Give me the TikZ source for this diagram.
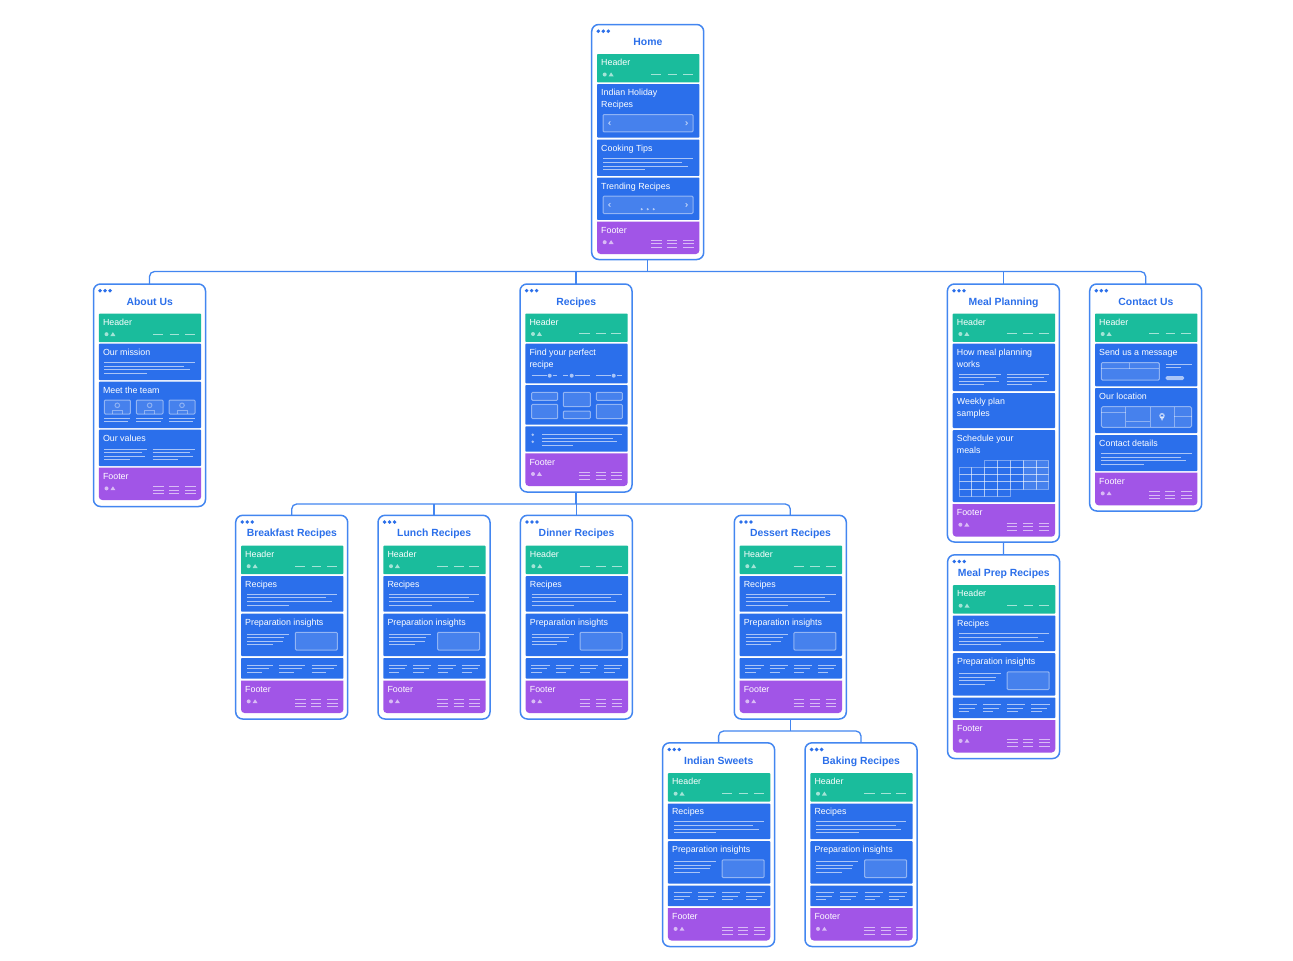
\documentclass[tikz,border=0pt]{standalone}
\usepackage{fontspec}
\setmainfont{Liberation Sans}
\definecolor{cardblue}{HTML}{4386F0}
\definecolor{titleblue}{HTML}{2B6FEA}
\definecolor{secblue}{HTML}{2B6FEB}
\definecolor{secgreen}{HTML}{1ABC9C}
\definecolor{secpurple}{HTML}{A155E7}
\tikzset{
  cardbox/.style={draw=cardblue,line width=1.5pt,rounded corners=7pt,fill=white,minimum width=112pt,inner sep=0pt,outer sep=0pt,anchor=north west},
  conn/.style={draw=cardblue,line width=1.3pt,rounded corners=5pt},
  cardtitle/.style={font=\fontsize{10.4}{12}\selectfont\bfseries,text=titleblue,inner sep=0pt,anchor=base},
  sectext/.style={font=\fontsize{8.85}{12}\selectfont,text=white,inner sep=0pt,anchor=base west},
  ln/.style={draw=white,draw opacity=.6,line width=1pt},
  thinln/.style={draw=white,draw opacity=.38,line width=1pt},
  boxed/.style={fill=white,fill opacity=.13,draw=white,draw opacity=.45,line width=1pt},
  dotf/.style={fill=white,fill opacity=.6,draw=none},
}
\newcounter{tn}
\newcommand{\txt}[3]{\stepcounter{tn}\node[sectext] (tn\arabic{tn}) at (#1,#2+3) {\begin{tabular}[t]{@{}l@{}}#3\end{tabular}};}
\newcommand{\cardf}[5]{% name,x,y,h,title
  \node[cardbox,minimum height=#4 pt] (#1) at (#2,#3) {};
  \node[cardtitle] (#1title) at ([xshift=56.2pt,yshift=-21.3pt]#1.north west) {#5};
  \foreach \dx in {6.6,11.6,16.6}{\fill[titleblue] ([xshift=\dx pt,yshift=-6.7pt]#1.north west) circle (1.9pt);}
}
\newcommand{\sect}[3]{\fill[#1,rounded corners=.8pt] (5.3,#2) rectangle (107.7,#3);}
\newcommand{\iconpair}[1]{\fill[dotf] (13,#1) circle (2pt); \fill[dotf] (16.9,#1+1.8) -- (21.9,#1+1.8) -- (19.4,#1-2.1) -- cycle;}
\newcommand{\headsec}[1]{\sect{secgreen}{#1}{#1+28.4}\txt{9.3}{#1+8.5}{Header}
  \iconpair{#1+20.5}
  \foreach \a/\b in {59.3/69.6,76/85.6,91.3/101.3}{\draw[ln] (\a,#1+20.3) -- (\b,#1+20.3);}}
\newcommand{\footsec}[2]{\fill[secpurple] (5.3,#1) -- (107.7,#1) [rounded corners=3.5pt] -- (107.7,#2) -- (5.3,#2) [sharp corners] -- cycle;
  \txt{9.3}{#1+8.7}{Footer}\iconpair{#1+20.7}
  \foreach \a/\b in {59.3/70,75.6/85.6,91.3/102}{\foreach \d in {19,22.4,26}{\draw[ln] (\a,#1+\d) -- (\b,#1+\d);}}}
\newcommand{\plines}[5]{% x,y,w,ratio3,lastratio
  \draw[ln] (#1,#2) -- ++(#3,0);
  \draw[ln] (#1,#2+3.6) -- ++({#3*.88},0);
  \draw[ln] (#1,#2+7.2) -- ++({#3*#4},0);
  \draw[ln] (#1,#2+10.8) -- ++({#3*#5},0);}
\newcommand{\chevs}[1]{\draw[ln,line width=.9pt] (18.7,#1-1.8) -- (17,#1) -- (18.7,#1+1.8); \draw[ln,line width=.9pt] (94,#1-1.8) -- (95.7,#1) -- (94,#1+1.8);}
\newcommand{\subcard}[5]{% name,x,y,title,columns list macro
  \cardf{#1}{#2}{#3}{203.7}{#4}
  \begin{scope}[shift={(#1.north west)}]
  \headsec{30.4}
  \sect{secblue}{60.7}{96.4}\txt{9.3}{69}{Recipes}\plines{11.3}{79}{90}{.94}{.47}
  \sect{secblue}{98.4}{140.7}\txt{9.3}{106.8}{Preparation insights}\plines{11.3}{118.7}{42}{.85}{.61}
  \fill[boxed,rounded corners=1pt] (59.6,117) rectangle (101.6,134.7);
  \sect{secblue}{142.7}{163.4}
  \foreach \a/\w in #5 {\draw[ln] (\a,150) -- ++(\w,0); \draw[ln] (\a,153.6) -- ++({\w*.87},0); \draw[ln] (\a,157) -- ++({\w*.57},0);}
  \footsec{165.4}{197.7}
  \end{scope}
}
\begin{document}
\begin{tikzpicture}[x=1pt,y=-1pt]
\useasboundingbox (0,0) rectangle (1293,961);
\fill[white] (0,0) rectangle (1293,961);
% ---- Home
\cardf{home}{591.7}{24.5}{235}{Home}
\begin{scope}[shift={(home.north west)}]
\headsec{29.5}
\sect{secblue}{59.5}{113}\txt{9.3}{67.5}{Indian Holiday\\Recipes}
\fill[boxed,rounded corners=1pt] (11.3,90) rectangle (101.3,107.3);\chevs{98.7}
\sect{secblue}{115}{151.4}\txt{9.3}{123.5}{Cooking Tips}\plines{11.3}{134.3}{90}{.94}{.47}
\sect{secblue}{153}{195.4}\txt{9.3}{161.7}{Trending Recipes}
\fill[boxed,rounded corners=1pt] (11.3,171.7) rectangle (101.3,189);\chevs{180.4}
\foreach \a in {50,56,62}{\fill[dotf] (\a,184.7) circle (1.2pt);}
\footsec{197}{229.5}
\end{scope}
% ---- About Us
\cardf{about}{93.5}{284}{222.5}{About Us}
\begin{scope}[shift={(about.north west)}]
\headsec{29.7}
\sect{secblue}{59.7}{96}\txt{9.3}{68}{Our mission}\plines{10.8}{78.7}{90.7}{.94}{.47}
\sect{secblue}{97.7}{144}\txt{9.3}{106}{Meet the team}
\foreach \a/\b in {10.8/36.8,42.8/69.5,75.5/101.5}{
  \fill[boxed,rounded corners=1pt] (\a,116) rectangle (\b,130);
  \draw[thinln] ({(\a+\b)/2},121.3) circle (2.3pt);
  \draw[thinln] ({(\a+\b)/2-5},130) -- ({(\a+\b)/2-5},126.5) -- ({(\a+\b)/2+5},126.5) -- ({(\a+\b)/2+5},130);
  \draw[ln] (\a,134) -- (\b,134); \draw[ln] (\a,137.7) -- ({\b-2},137.7);
}
\sect{secblue}{145.7}{182}\txt{9.3}{154}{Our values}
\plines{10.8}{165}{42.7}{.95}{.6}\plines{59.2}{165}{42.3}{.95}{.6}
\footsec{183.7}{216}
\end{scope}
% ---- Recipes
\cardf{recipes}{520}{284}{208}{Recipes}
\begin{scope}[shift={(recipes.north west)}]
\headsec{29.5}
\sect{secblue}{59.7}{99.3}\txt{9.3}{68}{Find your perfect\\recipe}
\foreach \a/\b in {11.7/27,32.7/37.3,43.3/48.3,55/70.3,76.3/90.7,97.3/102.3}{\draw[ln] (\a,91.7) -- (\b,91.7);}
\foreach \a in {29.7,51.7,93.7}{\fill[dotf] (\a,91.7) circle (2pt);}
\sect{secblue}{101}{140.7}
\foreach \a/\c/\b/\d in {11.7/108.3/37.7/116.3,11.7/120.3/37.7/134.7,43.3/108.3/70.3/122.7,43.3/127/70.3/134.7,76.3/108.3/102.3/116.3,76.3/120.3/102.3/134.7}{\fill[boxed,rounded corners=1pt] (\a,\c) rectangle (\b,\d);}
\sect{secblue}{142.3}{167.7}
\foreach \d in {150.7,157.7}{\fill[dotf] (12.7,\d) circle (1.4pt);}
\plines{22}{150.7}{80.3}{.93}{.39}
\footsec{169.3}{202}
\end{scope}
% ---- Meal Planning
\cardf{meal}{947.4}{284}{258}{Meal Planning}
\begin{scope}[shift={(meal.north west)}]
\headsec{29.5}
\sect{secblue}{59.7}{107}\txt{9.3}{68}{How meal planning\\works}
\plines{11.4}{90}{42.3}{.95}{.6}\plines{59.4}{90}{42.3}{.95}{.6}
\sect{secblue}{109}{144}\txt{9.3}{117}{Weekly plan\\samples}
\sect{secblue}{146}{218}\txt{9.3}{154}{Schedule your\\meals}
\foreach \i in {5,6}{\foreach \j in {0,1,2,3}{\fill[white,fill opacity=.13] ({11.6+12.84*\i},{176.6+7.1*\j}) rectangle ++(12.84,7.1);}}
\foreach \i in {2,...,6}{\draw[thinln] ({11.6+12.84*\i},176.6) rectangle ++(12.84,7.1);}
\foreach \j in {1,2,3}{\foreach \i in {0,...,6}{\draw[thinln] ({11.6+12.84*\i},{176.6+7.1*\j}) rectangle ++(12.84,7.1);}}
\foreach \i in {0,...,3}{\draw[thinln] ({11.6+12.84*\i},{176.6+7.1*4}) rectangle ++(12.84,7.1);}
\footsec{220}{252.7}
\end{scope}
% ---- Contact Us
\cardf{contact}{1089.7}{284}{227}{Contact Us}
\begin{scope}[shift={(contact.north west)}]
\headsec{29.5}
\sect{secblue}{59.7}{102.3}\txt{9.3}{68}{Send us a message}
\fill[boxed,rounded corners=1pt] (11.6,78.7) rectangle (69.6,96);
\draw[thinln] (11.6,84.7) -- (69.6,84.7); \draw[thinln] (40,78.7) -- (40,84.7);
\draw[ln] (76,80) -- (102,80); \draw[ln] (76,83.7) -- (91.3,83.7);
\fill[dotf,rounded corners=1.5pt] (76,92) rectangle (94.3,96);
\sect{secblue}{104}{149}\txt{9.3}{112}{Our location}
\fill[boxed,rounded corners=1.5pt] (11.6,122.7) rectangle (102,143.3);
\foreach \a in {36,60.3,84.3}{\draw[thinln] (\a,122.7) -- (\a,143.3);}
\draw[thinln] (11.6,128.7) -- (36,128.7); \draw[thinln] (36,137.3) -- (60.3,137.3); \draw[thinln] (84.3,132.7) -- (102,132.7);
\fill[dotf] (72.3,131.7) circle (2.8pt); \fill[dotf] (70.3,133) -- (74.3,133) -- (72.3,137) -- cycle;
\fill[secblue] (72.3,131.7) circle (1pt);
\sect{secblue}{151}{187}\txt{9.3}{159}{Contact details}\plines{11.3}{169.7}{90.7}{.94}{.47}
\footsec{188.7}{221.3}
\end{scope}
% ---- Sub pages
\def\threecols{11.3/25.7,43.3/26.3,76/25.3}
\def\fourcols{11/18.3,35.3/18,59.7/18,83.7/18.3}
\subcard{breakfast}{235.7}{515.3}{Breakfast Recipes}{\threecols}
\subcard{lunch}{378}{515.3}{Lunch Recipes}{\fourcols}
\subcard{dinner}{520.4}{515.3}{Dinner Recipes}{\fourcols}
\subcard{dessert}{734.3}{515.3}{Dessert Recipes}{\fourcols}
\subcard{mealprep}{947.6}{554.8}{Meal Prep Recipes}{\fourcols}
\subcard{sweets}{662.6}{742.8}{Indian Sweets}{\fourcols}
\subcard{baking}{805}{742.8}{Baking Recipes}{\fourcols}
% ---- Connectors
\coordinate (busa) at (648,271.5);
\coordinate (busb) at (577,504);
\coordinate (busc) at (790,731);
\draw[conn] (about.north) |- (busa) -| (contact.north);
\foreach \t in {recipes,meal}{\draw[conn] (\t.north) -- (\t.north |- busa);}
\draw[conn] (home.south) -- (home.south |- busa);
\draw[conn] (breakfast.north) |- (busb) -| (dessert.north);
\foreach \t in {lunch,dinner}{\draw[conn] (\t.north) -- (\t.north |- busb);}
\draw[conn] (recipes.south) -- (recipes.south |- busb);
\draw[conn] (sweets.north) |- (busc) -| (baking.north);
\draw[conn] (dessert.south) -- (dessert.south |- busc);
\draw[conn] (meal.south) -- (mealprep.north);
\end{tikzpicture}
\end{document}
